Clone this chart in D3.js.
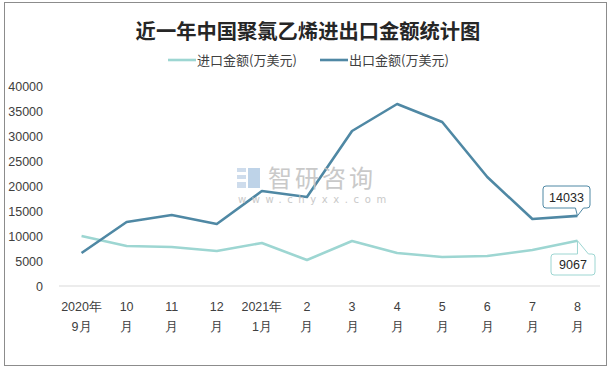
<!DOCTYPE html>
<html>
<head>
<meta charset="utf-8">
<script src="https://cdn.jsdelivr.net/npm/d3@7"></script>
<style>
  body { margin: 0; background: #fff; }
  svg { display: block; font-family: "Noto Sans CJK SC", "Noto Sans", sans-serif; }
</style>
</head>
<body>
<svg id="chart"></svg>
<script>
// data
const months = ["2020年|9月", "10|月", "11|月", "12|月", "2021年|1月", "2|月", "3|月", "4|月", "5|月", "6|月", "7|月", "8|月"];
const importValues = [10000, 8000, 7800, 7000, 8600, 5200, 9000, 6600, 5800, 6000, 7200, 9067];
const exportValues = [6600, 12800, 14200, 12400, 19000, 17800, 31000, 36400, 32800, 21800, 13400, 14033];
const yTicks = [0, 5000, 10000, 15000, 20000, 25000, 30000, 35000, 40000];
const seriesNames = ["进口金额(万美元)", "出口金额(万美元)"];
const seriesColors = ["#9dd6d2", "#4f88a4"];

const config = {
  width: 614, height: 371,
  margin: { top: 86, right: 14, bottom: 85, left: 59 }
};

const svg = d3.select("#chart")
  .attr("width", config.width)
  .attr("height", config.height);

// outer frame
svg.append("rect")
  .attr("x", 4.5).attr("y", 2.5)
  .attr("width", 602).attr("height", 363)
  .attr("fill", "#fff")
  .attr("stroke", "#8c8c8c");

const width = config.width - config.margin.left - config.margin.right;
const height = config.height - config.margin.top - config.margin.bottom;

const xScale = d3.scaleBand()
  .domain(months)
  .range([0, width]);

const yScale = d3.scaleLinear()
  .domain([0, 40000])
  .range([height, 0]);

const g = svg.append("g")
  .attr("transform", `translate(${config.margin.left},${config.margin.top})`);

// watermark
const wm = svg.append("g").attr("opacity", 0.9);
wm.append("rect").attr("x", 237).attr("y", 168).attr("width", 9).attr("height", 4).attr("fill", "#c9d9ea");
wm.append("rect").attr("x", 237).attr("y", 175).attr("width", 9).attr("height", 4).attr("fill", "#c9d9ea");
wm.append("rect").attr("x", 237).attr("y", 182).attr("width", 9).attr("height", 6).attr("fill", "#c9d9ea");
wm.append("rect").attr("x", 248).attr("y", 168).attr("width", 12).attr("height", 20).attr("fill", "#b8cfe6");
wm.append("text").attr("x", 268).attr("y", 187)
  .attr("font-size", 24).attr("fill", "#c4c4c4").attr("letter-spacing", 3)
  .text("智研咨询");
wm.append("text").attr("x", 238).attr("y", 203)
  .attr("font-size", 10).attr("fill", "#c4c4c4").attr("letter-spacing", 5.6)
  .attr("font-family", "DejaVu Sans")
  .text("www.chyxx.com");

// y axis
const yAxis = d3.axisLeft(yScale).tickValues(yTicks).tickSize(0).tickPadding(16).tickFormat(d3.format("d"));
const yAxisGroup = g.append("g").call(yAxis);
yAxisGroup.select(".domain").remove();
yAxisGroup.selectAll("text")
  .attr("font-size", 12.5)
  .attr("fill", "#404040")
  .attr("font-family", "Liberation Sans, sans-serif");

// baseline
g.append("line")
  .attr("x1", 0).attr("x2", width)
  .attr("y1", yScale(0)).attr("y2", yScale(0))
  .attr("stroke", "#d9d9d9").attr("stroke-width", 1);

// x axis labels, two lines each
const xAxis = d3.axisBottom(xScale).tickSize(0).tickFormat("");
const xAxisGroup = g.append("g").attr("transform", `translate(0,${height})`).call(xAxis);
xAxisGroup.select(".domain").remove();
xAxisGroup.selectAll(".tick").each(function(d) {
  const parts = d.split("|");
  const t = d3.select(this).append("text")
    .attr("fill", "#404040")
    .attr("font-size", 12.5)
    .attr("text-anchor", "middle");
  t.append("tspan").attr("x", 0).attr("y", 25).text(parts[0]);
  t.append("tspan").attr("x", 0).attr("y", 45).text(parts[1]);
});

// lines
const line = d3.line()
  .x((d, i) => xScale(months[i]) + xScale.bandwidth() / 2)
  .y(d => yScale(d));

[importValues, exportValues].forEach((vals, k) => {
  g.append("path")
    .datum(vals)
    .attr("fill", "none")
    .attr("stroke", seriesColors[k])
    .attr("stroke-width", 2.6)
    .attr("stroke-linejoin", "round")
    .attr("d", line);
});

// title
svg.append("text")
  .attr("x", 308).attr("y", 38.5)
  .attr("text-anchor", "middle")
  .attr("font-size", 20.3)
  .attr("font-weight", "bold")
  .attr("fill", "#262626")
  .text("近一年中国聚氯乙烯进出口金额统计图");

// legend
const legendPos = [168, 320];
seriesNames.forEach((name, k) => {
  const lg = svg.append("g").attr("transform", `translate(${legendPos[k]},60)`);
  lg.append("line").attr("x1", 0).attr("x2", 28).attr("y1", 0).attr("y2", 0)
    .attr("stroke", seriesColors[k]).attr("stroke-width", 2.6);
  lg.append("text").attr("x", 29).attr("y", 4.6)
    .attr("font-size", 13).attr("fill", "#404040")
    .text(name);
});

// callouts for last values
const lastIdx = months.length - 1;
const px = xScale(months[lastIdx]) + xScale.bandwidth() / 2;

function callout(value, color, boxX, boxY, boxW, boxH, above) {
  const py = yScale(value);
  const cg = g.append("g");
  const r = 3;
  let d;
  if (above) {
    // tail from bottom edge down to the point
    const t1 = px - 2, t2 = px + 6;
    d = `M${boxX + r},${boxY} H${boxX + boxW - r} Q${boxX + boxW},${boxY} ${boxX + boxW},${boxY + r}
         V${boxY + boxH - r} Q${boxX + boxW},${boxY + boxH} ${boxX + boxW - r},${boxY + boxH}
         H${t2} L${px},${py} L${t1},${boxY + boxH}
         H${boxX + r} Q${boxX},${boxY + boxH} ${boxX},${boxY + boxH - r}
         V${boxY + r} Q${boxX},${boxY} ${boxX + r},${boxY} Z`;
  } else {
    const t1 = px, t2 = px + 11;
    d = `M${boxX + r},${boxY} H${t1} L${px},${py} L${t2},${boxY}
         H${boxX + boxW - r} Q${boxX + boxW},${boxY} ${boxX + boxW},${boxY + r}
         V${boxY + boxH - r} Q${boxX + boxW},${boxY + boxH} ${boxX + boxW - r},${boxY + boxH}
         H${boxX + r} Q${boxX},${boxY + boxH} ${boxX},${boxY + boxH - r}
         V${boxY + r} Q${boxX},${boxY} ${boxX + r},${boxY} Z`;
  }
  cg.append("path").attr("d", d)
    .attr("fill", "#fff").attr("stroke", color).attr("stroke-width", 1);
  cg.append("text")
    .attr("x", boxX + boxW / 2).attr("y", boxY + boxH / 2 + 4.5)
    .attr("text-anchor", "middle")
    .attr("font-size", 12.5).attr("fill", "#262626")
    .attr("font-family", "Liberation Sans, sans-serif")
    .text(value);
}

callout(exportValues[lastIdx], seriesColors[1], 543 - config.margin.left, 186 - config.margin.top, 47, 22, true);
callout(importValues[lastIdx], seriesColors[0], 551 - config.margin.left, 254 - config.margin.top, 44, 21, false);
</script>
</body>
</html>
